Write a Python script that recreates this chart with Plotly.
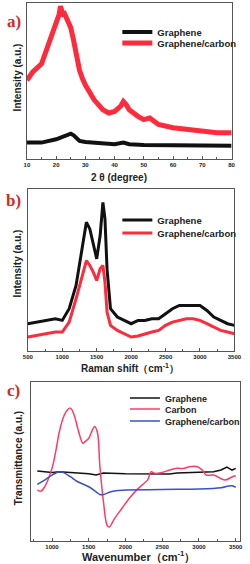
import plotly.graph_objects as go

# ---- Panel a: XRD ----
a_x_red = [10, 12, 15, 18, 20, 21, 21.5, 22.5, 23, 24, 25, 26, 27, 28, 29, 30, 33, 36, 38, 40, 42, 43, 44, 45, 48, 50, 52, 55, 60, 65, 70, 75, 80]
a_red = [240, 215, 190, 120, 70, 40, 15, 45, 40, 60, 80, 120, 170, 210, 235, 255, 300, 330, 340, 335, 320, 305, 315, 330, 350, 360, 355, 375, 385, 390, 395, 400, 400]
a_x_blk = [10, 15, 20, 22, 24, 25, 26, 28, 30, 35, 40, 43, 45, 50, 60, 70, 80]
a_blk = [430, 430, 420, 412, 405, 403, 408, 425, 428, 433, 435, 430, 435, 437, 438, 439, 440]

# ---- Panel b: Raman ----
b_x = [500, 700, 900, 1000, 1100, 1200, 1300, 1350, 1400, 1450, 1500, 1550, 1590, 1620, 1650, 1700, 1800, 1900, 2000,
       2100, 2200, 2300, 2400, 2500, 2600, 2700, 2800, 2900, 3000, 3100, 3200, 3300, 3400, 3500]
b_blk = [415, 408, 400, 405, 370, 300, 180, 110, 130, 180, 220, 150, 50, 100, 250, 370, 395, 405, 415,
         405, 405, 400, 400, 385, 370, 360, 360, 358, 360, 375, 395, 405, 415, 420]
b_red = [455, 448, 440, 440, 410, 340, 260, 225, 240, 260, 285, 250, 240, 290, 380, 420, 435, 445, 455,
         452, 445, 440, 435, 420, 410, 405, 400, 400, 405, 415, 425, 435, 440, 445]

# ---- Panel c: FTIR ----
c_x_blk = [800, 1000, 1100, 1300, 1500, 1600, 1700, 2000, 2500, 2600, 2700, 3000, 3200, 3300, 3380, 3450, 3500]
c_blk = [288, 292, 290, 293, 296, 300, 294, 296, 295, 297, 294, 292, 290, 285, 276, 285, 280]
c_x_car = [800, 850, 900, 1000, 1050, 1100, 1150, 1200, 1250, 1300, 1350, 1420, 1450, 1500, 1550, 1580, 1620, 1650,
           1700, 1750, 1780, 1850, 1950, 2050, 2150, 2250, 2300, 2350, 2400, 2500, 2600, 2700, 2800, 2870, 2980,
           3045, 3100, 3200, 3350, 3455, 3500]
c_car = [345, 348, 335, 280, 230, 170, 130, 108, 100, 120, 160, 205, 200, 190, 165, 155, 175, 270,
         380, 450, 455, 430, 400, 370, 345, 325, 315, 290, 295, 292, 285, 280, 280, 275, 275,
         285, 300, 300, 315, 305, 302]
c_x_blu = [800, 900, 1000, 1100, 1150, 1250, 1350, 1500, 1600, 1650, 1700, 1800, 1900, 2000, 2500, 3000, 3300, 3400, 3450, 3500]
c_blu = [328, 315, 300, 290, 292, 305, 320, 335, 350, 358, 358, 350, 346, 345, 343, 342, 338, 333, 332, 337]

RED = "#ff2a3c"
BLK = "#111111"
BLU = "#3a4fc8"
PINK = "#ff3a66"
FONT = "Liberation Sans"
H = 564.0
W = 250.0

fig = go.Figure()

def yv(top, arr):
    return [top - v for v in arr]

fig.add_trace(go.Scatter(x=a_x_blk, y=yv(480, a_blk), mode="lines", name="Graphene",
                         line=dict(color=BLK, width=4), xaxis="x", yaxis="y", legend="legend"))
fig.add_trace(go.Scatter(x=a_x_red, y=yv(480, a_red), mode="lines", name="Graphene/carbon",
                         line=dict(color=RED, width=5), xaxis="x", yaxis="y", legend="legend2"))

fig.add_trace(go.Scatter(x=b_x, y=yv(497, b_blk), mode="lines", name="Graphene",
                         line=dict(color=BLK, width=3), xaxis="x2", yaxis="y2", legend="legend3"))
fig.add_trace(go.Scatter(x=b_x, y=yv(497, b_red), mode="lines", name="Graphene/carbon",
                         line=dict(color=RED, width=3), xaxis="x2", yaxis="y2", legend="legend4"))

fig.add_trace(go.Scatter(x=c_x_blk, y=yv(497, c_blk), mode="lines", name="Graphene",
                         line=dict(color=BLK, width=1.5), xaxis="x3", yaxis="y3", legend="legend5"))
fig.add_trace(go.Scatter(x=c_x_car, y=yv(497, c_car), mode="lines", name="Carbon",
                         line=dict(color=PINK, width=1.5, shape="spline"), xaxis="x3", yaxis="y3", legend="legend6"))
fig.add_trace(go.Scatter(x=c_x_blu, y=yv(497, c_blu), mode="lines", name="Graphene/carbon",
                         line=dict(color=BLU, width=1.5, shape="spline"), xaxis="x3", yaxis="y3", legend="legend7"))

def dom(t, b):
    return [1 - b / H, 1 - t / H]

tickfont = dict(family=FONT, size=6, color="#222", weight="bold")
common_x = dict(showline=True, linecolor="#555", linewidth=1, mirror=True, ticks="inside", ticklen=3,
                tickcolor="#555", tickfont=tickfont, showgrid=False, zeroline=False,
                minor=dict(ticks="inside", ticklen=2, tickcolor="#555"))
common_y = dict(showline=True, linecolor="#555", linewidth=1, mirror=True, ticks="", showticklabels=False,
                showgrid=False, zeroline=False)

def leg(text_x, cy, size):
    # text starts ~37px right of the legend box left edge
    return dict(x=(text_x - 37) / W, y=1 - cy / H, xanchor="left", yanchor="middle",
                bgcolor="rgba(0,0,0,0)", itemwidth=30, visible=True,
                font=dict(family=FONT, size=size, color="#222", weight="bold"))

def ann(text, x, y, size, angle=0, family=FONT, color="#222"):
    return dict(text=text, x=x / W, y=1 - y / H, xref="paper", yref="paper", xanchor="center",
                yanchor="middle", showarrow=False, textangle=angle,
                font=dict(family=family, size=size, color=color, weight="bold"))

fig.update_layout(
    width=250, height=564, margin=dict(l=0, r=0, t=0, b=0),
    paper_bgcolor="white", plot_bgcolor="white", showlegend=True,
    xaxis=dict(common_x, domain=[23 / W, 238 / W], range=[10, 80], dtick=10, minor_dtick=5, anchor="y"),
    yaxis=dict(common_y, domain=dom(3, 159), range=[0, 475], anchor="x"),
    xaxis2=dict(common_x, domain=[24 / W, 241 / W], range=[500, 3500], dtick=500, minor_dtick=250, anchor="y2"),
    yaxis2=dict(common_y, domain=dom(189, 351), range=[0, 487], anchor="x2"),
    xaxis3=dict(common_x, domain=[27 / W, 247 / W], range=[710, 3560], tick0=1000, dtick=500, minor_dtick=250,
                anchor="y3"),
    yaxis3=dict(common_y, domain=dom(382, 541), range=[0, 475], anchor="x3"),
    legend=leg(155, 32, 9.5),
    legend2=leg(155, 43, 9.5),
    legend3=leg(155, 220, 9.5),
    legend4=leg(155, 233, 9.5),
    legend5=leg(163, 398, 9),
    legend6=leg(163, 409, 9),
    legend7=leg(163, 421, 9),
    annotations=[
        ann("a)", 9, 21, 17, family="Liberation Serif", color="#d42a2a"),
        ann("b)", 9, 200, 17, family="Liberation Serif", color="#d42a2a"),
        ann("c)", 9, 390, 17, family="Liberation Serif", color="#d42a2a"),
        ann("2 θ (degree)", 120, 177, 10),
        ann("Raman shift（cm<sup>-1</sup>）", 131, 368, 10),
        ann("Wavenumber（cm<sup>-1</sup>）", 140, 556, 11),
        ann("Intensity (a.u.)", 13, 77, 10, angle=-90),
        ann("Intensity (a.u.)", 13, 263, 10, angle=-90),
        ann("Transmittance (a.u.)", 14, 458, 10, angle=-90),
    ],
)

fig.write_html("out.html", config={"displayModeBar": False},
               post_script="document.body.style.margin='0';document.documentElement.style.overflow='hidden';")
